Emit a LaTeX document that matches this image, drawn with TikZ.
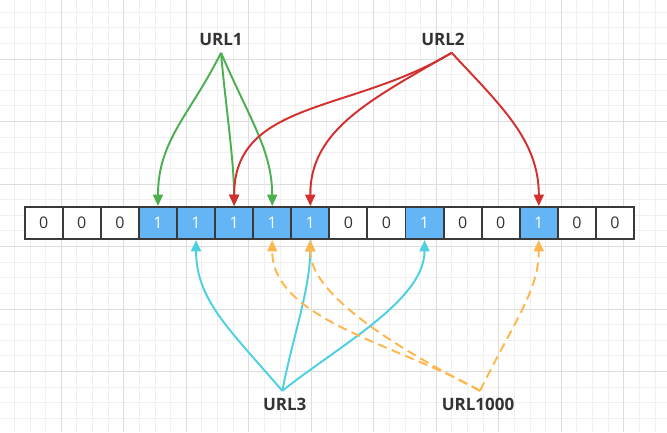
\documentclass[tikz,border=0pt]{standalone}
\usepackage{fontspec}
\setmainfont{Open Sans}
\usetikzlibrary{arrows.meta}
\definecolor{gridminor}{HTML}{F0F0F0}
\definecolor{gridmajor}{HTML}{DDDDDD}
\definecolor{cellborder}{HTML}{3A3A3A}
\definecolor{cellblue}{HTML}{64B5F6}
\definecolor{txt}{HTML}{333333}
\definecolor{cgreen}{HTML}{4CAF50}
\definecolor{cred}{HTML}{D32F2F}
\definecolor{ccyan}{HTML}{4DD0E1}
\definecolor{corange}{HTML}{FFB74D}
\begin{document}
\begin{tikzpicture}[x=0.75pt,y=-0.75pt,
  cellbase/.style={draw=cellborder,line width=1.4pt,minimum width=28.56pt,minimum height=24.2pt,inner sep=0pt,font=\fontsize{12}{14}\selectfont},
  cell0/.style={cellbase,fill=white,text=txt},
  cell1/.style={cellbase,fill=cellblue,text=white},
  urllabel/.style={font=\bfseries\fontsize{12.75}{15}\selectfont,text=txt,inner xsep=0pt,inner ysep=5.5pt,anchor=base},
  conn/.style={line width=1.45pt,-{Triangle[width=7.5pt,length=8.5pt]}},
  ga/.style={conn,draw=cgreen},
  ra/.style={conn,draw=cred},
  ca/.style={conn,draw=ccyan},
  oa/.style={conn,draw=corange,dash pattern=on 7pt off 4pt}
]
\useasboundingbox (0,0) rectangle (667,432);
\fill[white] (0,0) rectangle (667,432);
% grid
\foreach \i in {0,...,43} \draw[gridminor,line width=0.75pt] ({-1.2+15.625*\i},0) -- ({-1.2+15.625*\i},432);
\foreach \i in {0,...,28} \draw[gridminor,line width=0.75pt] (0,{-3.5+15.625*\i}) -- (667,{-3.5+15.625*\i});
\foreach \i in {0,...,11} \draw[gridmajor,line width=0.75pt] ({-1.2+62.5*\i},0) -- ({-1.2+62.5*\i},432);
\foreach \i in {0,...,7} \draw[gridmajor,line width=0.75pt] (0,{-3.5+62.5*\i}) -- (667,{-3.5+62.5*\i});
% cells
\foreach \v [count=\i from 0] in {0,0,0,1,1,1,1,1,0,0,1,0,0,1,0,0}
  \node[cell\v] (c\i) at ({24.7+38.08*(\i+0.5)},223) {\v};
% labels
\node[urllabel] (u1) at (221,45) {URL1};
\node[urllabel] (u2) at (443,45) {URL2};
\node[urllabel] (u3) at (284.7,410.7) {URL3};
\node[urllabel] (u1000) at (478,410.7) {URL1000};
% green
\draw[ga] (u1.south) .. controls (190,115) and (158,140) .. (c3.north);
\draw[ga] (u1.south) .. controls (225,100) and (234,160) .. (c5.north);
\draw[ga] (u1.south) .. controls (250,120) and (272,150) .. (c6.north);
% red
\draw[ra] ([xshift=6.5pt]u2.south) .. controls (351.7,113) and (234,100) .. (c5.north);
\draw[ra] ([xshift=6.5pt]u2.south) .. controls (370,100) and (310,130) .. (c7.north);
\draw[ra] ([xshift=6.5pt]u2.south) .. controls (500,105) and (539,140) .. (c13.north);
% cyan
\draw[ca] ([xshift=-1.8pt]u3.north) .. controls (230,330) and (196,300) .. (c4.south);
\draw[ca] ([xshift=-1.8pt]u3.north) .. controls (292,340) and (310,290) .. (c7.south);
\draw[ca] ([xshift=-1.8pt]u3.north) .. controls (340,345) and (424.5,300) .. (c10.south);
% orange dashed
\draw[oa] ([xshift=1.5pt]u1000.north) .. controls (400,345) and (272,320) .. (c6.south);
\draw[oa] ([xshift=1.5pt]u1000.north) .. controls (420,360) and (310,300) .. (c7.south);
\draw[oa] ([xshift=1.5pt]u1000.north) .. controls (515,320) and (538.8,290) .. (c13.south);
\end{tikzpicture}
\end{document}
